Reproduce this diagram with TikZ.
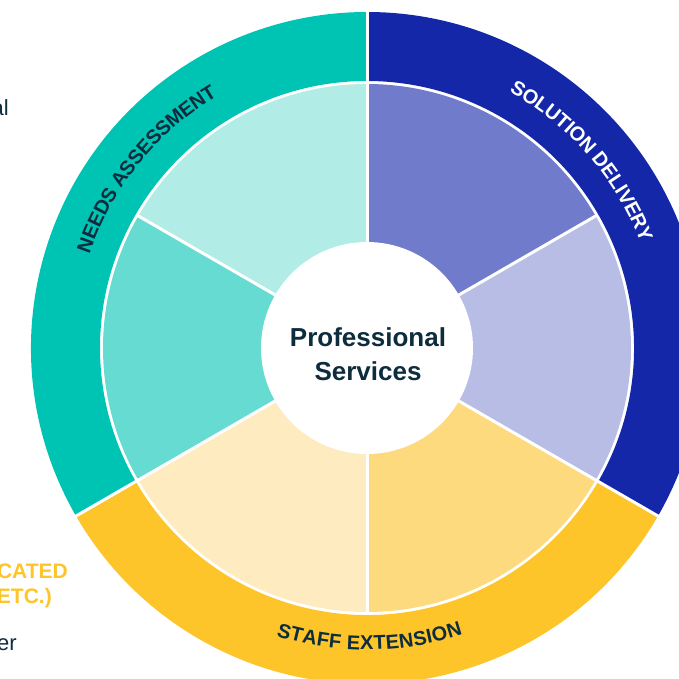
\documentclass[tikz,border=0pt]{standalone}
\usepackage{fontspec}
\setmainfont{Liberation Sans}
\usetikzlibrary{decorations.text}

\definecolor{teal ring}{RGB}{0,196,179}
\definecolor{blue ring}{RGB}{20,39,168}
\definecolor{gold ring}{RGB}{253,197,42}
\definecolor{mint}{RGB}{178,236,230}
\definecolor{aqua}{RGB}{102,219,209}
\definecolor{periwinkle}{RGB}{112,123,203}
\definecolor{lavender}{RGB}{184,189,230}
\definecolor{sand}{RGB}{253,218,126}
\definecolor{cream}{RGB}{254,236,192}
\definecolor{ink}{RGB}{13,44,62}

\newcommand\ringfont{\bfseries\fontsize{20}{22}\selectfont}

\begin{document}
\begin{tikzpicture}[
    x=1pt, y=1pt,
    divider/.style={draw=white, line width=3pt},
    ring label/.style={decorate, decoration={text along path, text align=center,
        raise=-7pt, text color=#1}},
    side text/.style={anchor=base east, inner sep=0pt, text=ink,
        font=\fontsize{22}{24}\selectfont},
    side title/.style={anchor=base east, inner sep=0pt, text=gold ring,
        font=\bfseries\fontsize{21}{24}\selectfont}
]
    \clip (-367,-331) rectangle (312,348);

    % inner ring, six pieces
    \foreach \a/\col in {-30/lavender, 30/periwinkle, 90/mint, 150/aqua, 210/cream, 270/sand} {
        \fill[\col] (0,0) -- (\a:264) arc[start angle=\a, delta angle=60, radius=264] -- cycle;
    }
    \foreach \a in {-30,30,...,270} {
        \draw[divider] (0,0) -- (\a:266);
    }

    % outer ring, three pieces
    \foreach \a/\col in {-30/blue ring, 90/teal ring, 210/gold ring} {
        \fill[\col] (\a:267) arc[start angle=\a, delta angle=120, radius=267]
            -- (\a+120:336) arc[start angle=\a+120, delta angle=-120, radius=336] -- cycle;
    }
    \foreach \a in {-30,90,210} {
        \draw[divider] (\a:264) -- (\a:340);
    }

    \fill[white] (0,0) circle[radius=106];
    \node[align=center, text=ink, font=\bfseries\fontsize{26}{34}\selectfont] (title) at (1,-6)
        {Professional\\Services};

    % ring labels
    \path[ring label=ink, decoration={text={|\ringfont|NEEDS ASSESSMENT}}]
        (176:300) arc[start angle=176, end angle=106, radius=300];
    \path[ring label=white, decoration={text={|\ringfont|SOLUTION DELIVERY}}]
        (76:300) arc[start angle=76, end angle=6, radius=300];
    \path[ring label=ink, decoration={text={|\ringfont|STAFF EXTENSION}}]
        (235:295) arc[start angle=235, end angle=306, radius=295];

    % cut-off texts at the left edge
    \node[side text] (note a) at (-358,232) {al};
    \node[side title] (note b) at (-299,-230) {CATED};
    \node[side title] (note c) at (-315,-255) {ETC.)};
    \node[side text] (note d) at (-350,-302) {er};
\end{tikzpicture}
\end{document}
